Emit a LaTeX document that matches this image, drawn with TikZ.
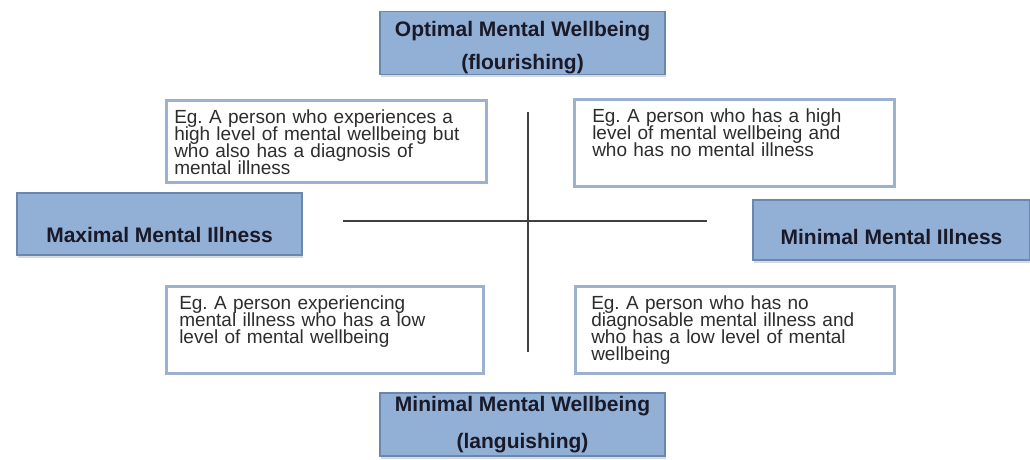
\documentclass[tikz,border=0pt]{standalone}
\usepackage{fontspec}
\setmainfont{Liberation Sans}
\usetikzlibrary{shadows}
\definecolor{headfill}{RGB}{146,176,213}
\definecolor{headline}{RGB}{105,135,175}
\definecolor{headtext}{RGB}{25,25,40}
\definecolor{egline}{RGB}{155,177,206}
\definecolor{egtext}{RGB}{45,45,45}
\newcommand\egsize{\fontsize{19}{17}\selectfont\lineskiplimit=-10pt\relax\frenchspacing}

\begin{document}
\begin{tikzpicture}[x=1pt, y=-1pt]

  \tikzset{
    head/.style={draw=headline, line width=1.2pt, fill=headfill,
      text=headtext, inner sep=0pt, align=center,
      font=\fontsize{21}{33}\selectfont\bfseries,
      drop shadow={shadow xshift=1pt, shadow yshift=-2.5pt, opacity=0.3}},
    egbox/.style={draw=egline, line width=2.5pt, fill=white,
      text=egtext, inner xsep=0pt, inner ysep=0pt, align=left,
      anchor=north west, minimum width=320pt,
      text height=23pt, text depth=64pt,
      font=\fontsize{19}{17}\selectfont, execute at begin node=\egsize},
    axis/.style={draw=black!75, line width=1.3pt}
  }

  \useasboundingbox (0,0) rectangle (1030,460);

  %% the two axes
  \coordinate (west) at (343,221);
  \coordinate (east) at (707,221);
  \coordinate (north) at (528,112);
  \coordinate (south) at (528,352);
  \draw[axis] (west) -- (east);
  \draw[axis] (north) -- (south);

  %% ends of the axes
  \node[head, minimum width=285pt, minimum height=60pt] (optimal) at (522.5,43)
    {\rule{0pt}{25pt}Optimal Mental Wellbeing\\(flourishing)};
  \node[head, minimum width=285pt, minimum height=63pt] (minwell) at (522.5,424.5)
    {Minimal Mental Wellbeing\\[4pt](languishing)};
  \node[head, minimum width=285pt, minimum height=62pt,
    text height=40pt, text depth=3pt] (maxill) at (159.5,224)
    {Maximal Mental Illness};
  \node[head, minimum width=277pt, minimum height=60pt,
    text height=32pt, text depth=3pt] (minill) at (891.5,230)
    {Minimal Mental Illness};

  %% the four quadrants
  \node[egbox, text width=304pt, minimum width=320pt, text depth=59pt] (highill) at (165,99)
    {Eg. A person who experiences a\\high level of mental wellbeing but\\who also has a diagnosis of\\mental illness};
  \node[egbox, text width=284pt, minimum width=320pt] (highnone) at (573,98)
    {Eg. A person who has a high\\level of mental wellbeing and\\who has no mental illness};
  \node[egbox, text width=291pt, minimum width=317pt] (lowill) at (165,285)
    {Eg. A person experiencing\\mental illness who has a low\\level of mental wellbeing};
  \node[egbox, text width=287pt, minimum width=319pt] (lownone) at (574,285)
    {Eg. A person who has no\\diagnosable mental illness and\\who has a low level of mental\\wellbeing};

\end{tikzpicture}
\end{document}
